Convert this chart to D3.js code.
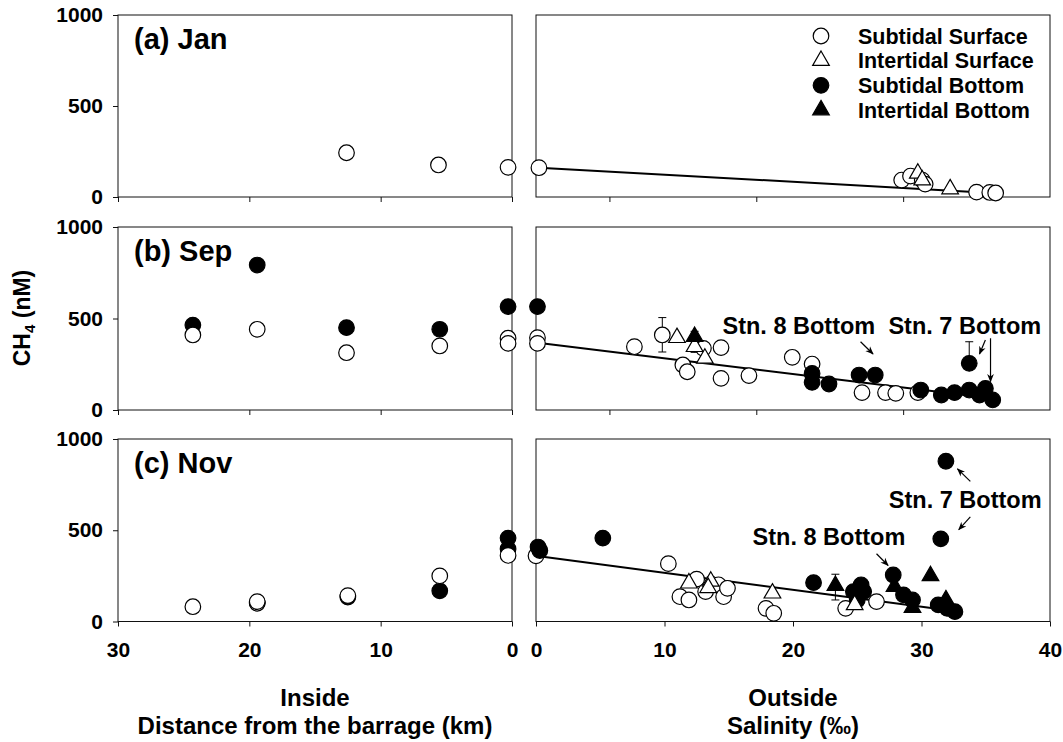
<!DOCTYPE html>
<html><head><meta charset="utf-8">
<script src="https://cdn.jsdelivr.net/npm/d3@7"></script>
<style>body{margin:0;background:#fff}svg{display:block}text{font-family:"Liberation Sans",Arial,sans-serif;font-weight:bold;fill:#000}</style>
</head><body><svg id="c" width="1063" height="742"></svg>
<script>
// ---------- data ----------
const panelLabels = ["(a) Jan", "(b) Sep", "(c) Nov"];
const yTicks = [0, 500, 1000];
const insideTicks = [30, 20, 10, 0];
const outsideTicksAB = [5, 15, 25];
const outsideTicksC = [0, 10, 20, 30, 40];
const legendLabels = ["Subtidal Surface", "Intertidal Surface", "Subtidal Bottom", "Intertidal Bottom"];

// inside: [distance km, CH4 nM]; outside: [salinity, CH4 nM]
const janInsideSS = [[12.6, 243], [5.6, 176], [0.3, 163]];
const janOutsideSS = [[0.2, 161], [24.9, 93], [25.5, 115], [26.3, 93], [26.5, 71], [30.0, 27], [30.9, 25], [31.3, 22]];
const janOutsideIS = [[26.0, 130], [26.3, 93], [28.2, 44]];

const sepInsideSS = [[24.3, 410], [19.4, 441], [12.6, 313], [5.5, 350], [0.3, 392], [0.3, 364]];
const sepInsideSB = [[24.3, 464], [19.4, 792], [12.6, 450], [5.5, 441], [0.3, 565]];
const sepOutsideSS = [[0.1, 395], [0.1, 364], [8.6, 410], [6.7, 346], [11.4, 337], [10.0, 246], [10.3, 209],
  [12.6, 341], [12.6, 173], [14.5, 188], [17.45, 288], [18.8, 251], [22.2, 95], [23.8, 95], [24.5, 91], [26.0, 95]];
const sepOutsideIS = [[9.6, 395], [10.8, 346], [11.5, 282]];
const sepOutsideSB = [[0.1, 565], [18.8, 200], [18.8, 151], [19.95, 142], [22.0, 191], [23.1, 191], [26.2, 109],
  [27.6, 82], [28.5, 95], [29.5, 255], [29.5, 109], [30.2, 82], [30.6, 118], [31.1, 55]];
const sepOutsideIB = [[10.8, 401]];
const sepErrors = [[8.6, 317, 505], [10.8, 315, 430], [29.5, 255, 373]];

const novInsideSS = [[24.3, 81], [19.4, 100], [19.4, 109], [12.5, 142], [5.5, 250], [0.3, 362]];
const novInsideSB = [[19.4, 104], [12.5, 134], [5.5, 168], [0.3, 457], [0.3, 397]];
const novOutsideSS = [[0.0, 360], [10.3, 317], [12.5, 232], [11.2, 136], [11.9, 118], [13.2, 164], [14.2, 201],
  [14.6, 136], [14.9, 182], [17.9, 72], [18.5, 45], [24.1, 72], [26.5, 109]];
const novOutsideIS = [[11.9, 210], [13.6, 220], [13.4, 185], [18.4, 155], [24.8, 91]];
const novOutsideSB = [[0.16, 408], [0.3, 389], [5.2, 457], [21.6, 213], [24.7, 164], [25.3, 201], [25.5, 164],
  [25.0, 118], [27.8, 255], [28.6, 146], [29.3, 118], [31.5, 453], [31.9, 878], [31.3, 91], [32.0, 72], [32.6, 54]];
const novOutsideIB = [[23.3, 197], [27.9, 191], [29.3, 76], [30.7, 250], [31.9, 118]];
const novErrors = [[23.3, 118, 259], [27.8, 255, 292], [13.6, 195, 245]];

// regression lines: [xStart, xEnd, intercept, slope]
const regJan = [0.2, 31.3, 162, -4.5];
const regSep = [0.1, 31.0, 368, -9.8];
const regNov = [0.1, 31.5, 360, -9.3];

// annotations: text [label, x, y], arrows [x1, y1, x2, y2] in data units
const sepNotes = [["Stn. 8 Bottom", 17.9, 464], ["Stn. 7 Bottom", 29.2, 464]];
const sepArrows = [[22.1, 373, 22.95, 306], [30.6, 383, 30.2, 306], [30.95, 392, 30.95, 155]];
const novNotes = [["Stn. 7 Bottom", 33.4, 668], ["Stn. 8 Bottom", 22.8, 466]];
const novArrows = [[33.8, 768, 32.8, 836], [33.8, 573, 32.9, 503], [26.5, 371, 27.4, 307]];

// ---------- layout ----------
const svg = d3.select("#c");
svg.append("rect").attr("width", 1063).attr("height", 742).attr("fill", "#fff");
const L = {x0: 118, x1: 512}, R = {x0: 536, x1: 1050};
const rows = [{y0: 15, y1: 197}, {y0: 227, y1: 410}, {y0: 439, y1: 621.5}];

svg.append("defs").append("marker").attr("id", "ah").attr("viewBox", "0 0 10 10")
  .attr("refX", 9).attr("refY", 5).attr("markerWidth", 7).attr("markerHeight", 7)
  .attr("orient", "auto").append("path").attr("d", "M0,1 L10,5 L0,9 L3,5 Z").attr("fill", "#000");

const tri = d3.symbol(d3.symbolTriangle, 120);
function drawPts(g, data, xs, ys, kind) {
  if (!data) return;
  if (kind === "SS" || kind === "SB") {
    g.selectAll(null).data(data).join("circle")
      .attr("cx", d => xs(d[0])).attr("cy", d => ys(d[1])).attr("r", 7.8)
      .attr("fill", kind === "SS" ? "#fff" : "#000").attr("stroke", "#000").attr("stroke-width", 1.2);
  } else {
    g.selectAll(null).data(data).join("path").attr("d", tri)
      .attr("transform", d => `translate(${xs(d[0])},${ys(d[1])})`)
      .attr("fill", kind === "IS" ? "#fff" : "#000").attr("stroke", "#000").attr("stroke-width", 1.2);
  }
}
function drawErr(g, data, xs, ys) {
  (data || []).forEach(d => {
    const x = xs(d[0]);
    g.append("line").attr("x1", x).attr("x2", x).attr("y1", ys(d[1])).attr("y2", ys(d[2])).attr("stroke", "#000").attr("stroke-width", 1);
    g.append("line").attr("x1", x - 4).attr("x2", x + 4).attr("y1", ys(d[2])).attr("y2", ys(d[2])).attr("stroke", "#000").attr("stroke-width", 1);
    g.append("line").attr("x1", x - 4).attr("x2", x + 4).attr("y1", ys(d[1])).attr("y2", ys(d[1])).attr("stroke", "#000").attr("stroke-width", 1);
  });
}
function styleTicks(sel) {
  sel.select(".domain").remove();
  sel.selectAll("line").attr("stroke", "#111");
  sel.selectAll("text").attr("font-size", 21).attr("font-family", "Liberation Sans, Arial").attr("font-weight", "bold").attr("fill", "#000");
}

const panels = [
  {inside: {SS: janInsideSS}, outside: {SS: janOutsideSS, IS: janOutsideIS}, reg: regJan, dom: [0, 35], ticks: outsideTicksAB},
  {inside: {SB: sepInsideSB, SS: sepInsideSS}, outside: {SS: sepOutsideSS, SB: sepOutsideSB, IS: sepOutsideIS, IB: sepOutsideIB},
    reg: regSep, dom: [0, 35], ticks: outsideTicksAB, err: sepErrors, notes: sepNotes, arrows: sepArrows},
  {inside: {SB: novInsideSB, SS: novInsideSS}, outside: {SS: novOutsideSS, SB: novOutsideSB, IS: novOutsideIS, IB: novOutsideIB},
    reg: regNov, dom: [0, 40], ticks: outsideTicksC, err: novErrors, notes: novNotes, arrows: novArrows}
];

panels.forEach((p, i) => {
  const r = rows[i];
  const y = d3.scaleLinear().domain([0, 1000]).range([r.y1, r.y0]);
  const xi = d3.scaleLinear().domain([30, 0]).range([L.x0, L.x1]);
  const xo = d3.scaleLinear().domain(p.dom).range([R.x0, R.x1]);
  const last = i === 2;

  // inside frame and axes
  const gi = svg.append("g");
  gi.append("rect").attr("x", L.x0).attr("y", r.y0).attr("width", L.x1 - L.x0).attr("height", r.y1 - r.y0)
    .attr("fill", "none").attr("stroke", "#111").attr("stroke-width", 1);
  gi.append("g").attr("transform", `translate(${L.x0},0)`)
    .call(d3.axisLeft(y).tickValues(yTicks).tickSize(5).tickPadding(10).tickFormat(d3.format("d"))).call(styleTicks);
  gi.append("g").attr("transform", `translate(0,${r.y1})`)
    .call(d3.axisBottom(xi).tickValues(insideTicks).tickSize(5).tickPadding(16).tickFormat(last ? d3.format("d") : () => ""))
    .call(styleTicks);

  // outside frame and axis
  const go = svg.append("g");
  go.append("rect").attr("x", R.x0).attr("y", r.y0).attr("width", R.x1 - R.x0).attr("height", r.y1 - r.y0)
    .attr("fill", "none").attr("stroke", "#111").attr("stroke-width", 1);
  go.append("g").attr("transform", `translate(0,${r.y1})`)
    .call(d3.axisBottom(xo).tickValues(p.ticks).tickSize(5).tickPadding(16).tickFormat(last ? d3.format("d") : () => ""))
    .call(styleTicks);

  // panel label
  svg.append("text").attr("x", 134).attr("y", r.y0 + 34).attr("font-size", 29).text(panelLabels[i]);

  // points inside
  const pi = svg.append("g");
  ["SB", "SS"].forEach(k => drawPts(pi, p.inside[k], xi, y, k));

  // regression line
  const reg = p.reg;
  svg.append("line").attr("x1", xo(reg[0])).attr("y1", y(reg[2] + reg[3] * reg[0]))
    .attr("x2", xo(reg[1])).attr("y2", y(reg[2] + reg[3] * reg[1])).attr("stroke", "#000").attr("stroke-width", 2);

  const po = svg.append("g");
  drawErr(po, p.err, xo, y);
  ["SS", "SB", "IS", "IB"].forEach(k => drawPts(po, p.outside[k], xo, y, k));

  (p.notes || []).forEach(n => {
    svg.append("text").attr("x", xo(n[1])).attr("y", y(n[2])).attr("dy", "0.36em").attr("text-anchor", "middle")
      .attr("font-size", 23.5).text(n[0]);
  });
  (p.arrows || []).forEach(a => {
    svg.append("line").attr("x1", xo(a[0])).attr("y1", y(a[1])).attr("x2", xo(a[2])).attr("y2", y(a[3]))
      .attr("stroke", "#000").attr("stroke-width", 1.2).attr("marker-end", "url(#ah)");
  });

  // legend in panel a
  if (i === 0) {
    const kinds = ["SS", "IS", "SB", "IB"];
    const ly = d3.scalePoint().domain(legendLabels).range([36, 110]);
    const lg = svg.append("g");
    legendLabels.forEach((lab, j) => {
      const k = kinds[j];
      if (k === "SS" || k === "SB") {
        lg.append("circle").attr("cx", 821).attr("cy", ly(lab)).attr("r", 7.8)
          .attr("fill", k === "SS" ? "#fff" : "#000").attr("stroke", "#000").attr("stroke-width", 1.2);
      } else {
        lg.append("path").attr("d", tri).attr("transform", `translate(821,${ly(lab)})`)
          .attr("fill", k === "IS" ? "#fff" : "#000").attr("stroke", "#000").attr("stroke-width", 1.2);
      }
      lg.append("text").attr("x", 858).attr("y", ly(lab)).attr("dy", "0.36em").attr("font-size", 21.5).text(lab);
    });
  }
});

// axis titles
const yt = svg.append("text").attr("transform", "translate(30,318) rotate(-90)").attr("text-anchor", "middle").attr("font-size", 23);
yt.append("tspan").text("CH");
yt.append("tspan").attr("font-size", 15).attr("dy", 5).text("4");
yt.append("tspan").attr("dy", -5).text(" (nM)");

svg.append("text").attr("x", 315).attr("y", 706).attr("text-anchor", "middle").attr("font-size", 24).text("Inside");
svg.append("text").attr("x", 315).attr("y", 734).attr("text-anchor", "middle").attr("font-size", 24).text("Distance from the barrage (km)");
svg.append("text").attr("x", 793).attr("y", 706).attr("text-anchor", "middle").attr("font-size", 24).text("Outside");
svg.append("text").attr("x", 793).attr("y", 734).attr("text-anchor", "middle").attr("font-size", 24).text("Salinity (‰)");
</script></body></html>
